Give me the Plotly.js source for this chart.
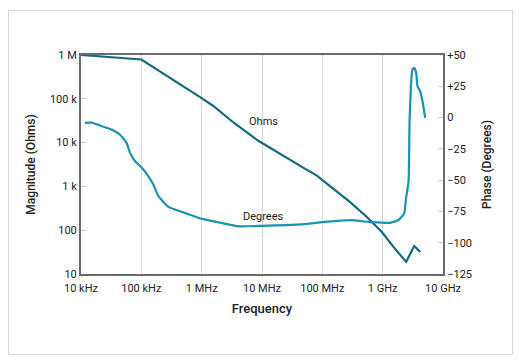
<!DOCTYPE html>
<html>
<head>
<meta charset="utf-8">
<script src="https://cdn.plot.ly/plotly-3.0.1.min.js"></script>
<style>
  html, body { margin: 0; padding: 0; background: #fff; }
  #wrap { position: relative; width: 519px; height: 360px; }
  #chart { position: absolute; left: 0; top: 0; width: 519px; height: 360px; }
  #frame { position: absolute; left: 8px; top: 10px; width: 503px; height: 343px; border: 1px solid #d6d6d6; pointer-events: none; }
</style>
</head>
<body>
<div id="wrap">
  <div id="chart"></div>
  <div id="frame"></div>
</div>
<script>
// Magnitude (Ohms) trace
const ohmsFreq = [1e4, 1e5, 1.03e6, 1.56e6, 3.36e6, 8.7e6, 4.3e7, 8.1e7, 1.53e8, 2.89e8, 5.47e8, 9.7e8, 1.51e9, 2.45e9, 3.33e9, 4.19e9];
const ohmsVal  = [1e6, 7.9e5, 1.01e5, 6.86e4, 2.88e4, 1.1e4, 2.95e3, 1.76e3, 877, 437, 200, 91, 41.5, 18.9, 43.6, 32];

// Phase (Degrees) trace
const degFreq = [1.16e4, 1.5e4, 2.06e4, 3.2e4, 4.4e4, 5.7e4, 6.5e4, 7.9e4, 1.02e5, 1.31e5, 1.58e5, 1.92e5, 2.81e5, 4.39e5, 1e6, 1.38e6, 4e6, 1e7, 4.3e7, 1.02e8, 2.9e8, 6.6e8, 1.33e9, 1.83e9, 2.27e9, 2.45e9, 2.69e9, 2.75e9, 2.79e9, 2.86e9, 2.97e9, 3.12e9, 3.33e9, 3.59e9, 3.78e9, 4.19e9, 4.57e9, 5.07e9];
const degVal  = [-4.2, -4, -6.3, -9.5, -13.5, -20.2, -28.2, -34.9, -40.1, -46.9, -53.5, -62.8, -71.3, -74.8, -80.9, -82.3, -86.8, -86.5, -85.4, -83.6, -82, -83.6, -84.1, -82, -76.7, -64, -50.8, -25.5, -2.9, 10.4, 29, 38.4, 39.8, 35.8, 25, 21, 13.1, -0.2];

// Axis ticks
const xTickVals = [1e4, 1e5, 1e6, 1e7, 1e8, 1e9, 1e10];
const xTickText = ["10 kHz", "100 kHz", "1 MHz", "10 MHz", "100 MHz", "1 GHz", "10 GHz"];
const yTickVals = [10, 100, 1e3, 1e4, 1e5, 1e6];
const yTickText = ["10", "100", "1 k", "10 k", "100 k", "1 M"];
const y2TickVals = [-125, -100, -75, -50, -25, 0, 25, 50];
const y2TickText = ["\u2212125", "\u2212100", "\u221275", "\u221250", "\u221225", "0", "+25", "+50"];

// Curve labels
const labelText = ["Ohms", "Degrees"];
const labelFreq = [1.05e7, 1.05e7];
const labelOhms = [3.0e4, 205];

const FONT = "Roboto, 'Open Sans', sans-serif";
const ohmsColor = "#146a82";
const degColor = "#1a92b3";

const traces = [
  { x: ohmsFreq, y: ohmsVal, type: "scatter", mode: "lines", yaxis: "y",
    line: { color: ohmsColor, width: 2.2 }, hoverinfo: "skip" },
  { x: degFreq, y: degVal, type: "scatter", mode: "lines", yaxis: "y2",
    line: { color: degColor, width: 2.2, shape: "spline", smoothing: 0.4 }, hoverinfo: "skip" }
];

const layout = {
  width: 519, height: 360,
  margin: { l: 81, r: 76, t: 55, b: 86, pad: 0 },
  paper_bgcolor: "#fff", plot_bgcolor: "#fff",
  showlegend: false,
  font: { family: FONT, size: 11, color: "#222" },
  xaxis: {
    type: "log", range: [4, 10],
    tickvals: xTickVals, ticktext: xTickText,
    showgrid: true, gridcolor: "#d9d9d9", gridwidth: 1,
    showline: true, linecolor: "#6b6b6b", linewidth: 2, mirror: true,
    ticks: "", zeroline: false, ticklabelstandoff: 3,
    tickfont: { family: FONT, size: 11, color: "#222" },
    title: { text: "Frequency", font: { family: FONT, size: 13, color: "#222", weight: 500 }, standoff: 10 }
  },
  yaxis: {
    type: "log", range: [1, 6],
    tickvals: yTickVals, ticktext: yTickText,
    showgrid: false, zeroline: false,
    showline: true, linecolor: "#6b6b6b", linewidth: 2,
    ticks: "inside", ticklen: 5, tickcolor: "#cfcfcf", tickwidth: 1,
    tickfont: { family: FONT, size: 11, color: "#222" },
    title: { text: "Magnitude (Ohms)", font: { family: FONT, size: 12, color: "#222", weight: 500 }, standoff: 12 }
  },
  yaxis2: {
    overlaying: "y", side: "right",
    range: [-125, 50],
    tickvals: y2TickVals, ticktext: y2TickText,
    showgrid: false, zeroline: false,
    showline: true, linecolor: "#6b6b6b", linewidth: 2,
    ticks: "inside", ticklen: 5, tickcolor: "#cfcfcf", tickwidth: 1,
    tickfont: { family: FONT, size: 11, color: "#222" },
    title: { text: "Phase (Degrees)", font: { family: FONT, size: 12, color: "#222", weight: 500 }, standoff: 12 }
  },
  annotations: labelText.map((t, i) => ({
    text: t, x: Math.log10(labelFreq[i]), y: Math.log10(labelOhms[i]),
    xref: "x", yref: "y", showarrow: false,
    font: { family: FONT, size: 11, color: "#222" }
  }))
};

Plotly.newPlot("chart", traces, layout, { staticPlot: true, displayModeBar: false });
</script>
</body>
</html>
